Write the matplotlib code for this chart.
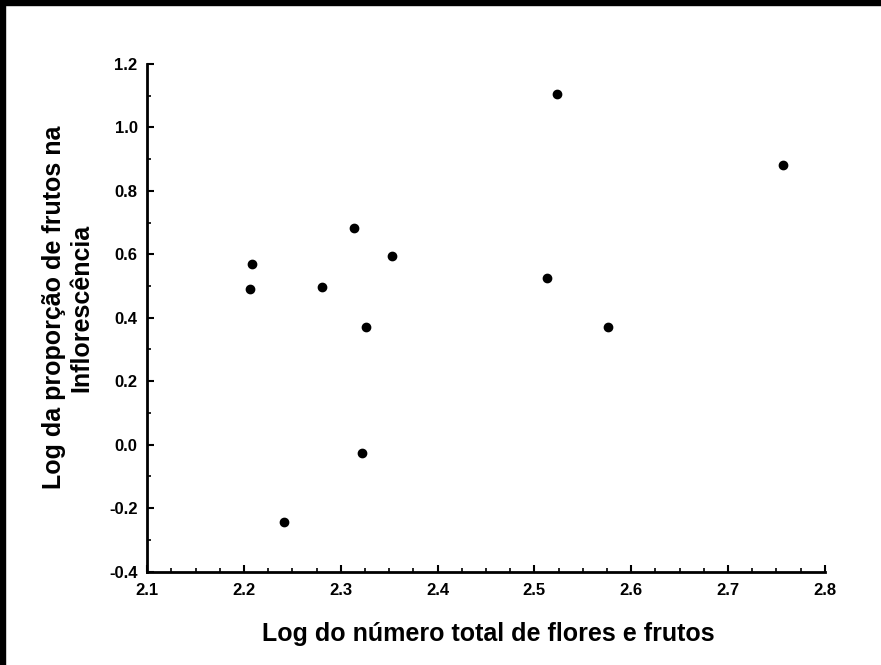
import matplotlib
matplotlib.use("Agg")
import matplotlib.pyplot as plt
from matplotlib.patches import Rectangle
from matplotlib.ticker import MultipleLocator

plt.rcParams['font.family'] = ['Liberation Sans', 'DejaVu Sans']
plt.rcParams['font.weight'] = 'bold'

# log of total flowers + fruits vs log of fruit proportion
log_total = [2.208, 2.206, 2.241, 2.281, 2.314, 2.322, 2.326, 2.353,
             2.513, 2.523, 2.576, 2.757]
log_prop = [0.568, 0.490, -0.245, 0.497, 0.683, -0.026, 0.371, 0.596,
            0.524, 1.106, 0.371, 0.882]

fig = plt.figure(figsize=(8.81, 6.65), dpi=100)
ax = fig.add_axes([0.1672, 0.1406, 0.7689, 0.7632])

ax.scatter(log_total, log_prop, s=36, color='black', zorder=3)

ax.set_xlim(2.1, 2.8)
ax.set_ylim(-0.4, 1.2)
ax.xaxis.set_major_locator(MultipleLocator(0.1))
ax.xaxis.set_minor_locator(MultipleLocator(0.025))
ax.yaxis.set_major_locator(MultipleLocator(0.2))
ax.yaxis.set_minor_locator(MultipleLocator(0.1))
ax.xaxis.set_major_formatter(plt.FuncFormatter(lambda v, p: f"{v:.1f}"))
ax.yaxis.set_major_formatter(plt.FuncFormatter(lambda v, p: f"{v:.1f}".replace("-0.0", "0.0")))

ax.spines['top'].set_visible(False)
ax.spines['right'].set_visible(False)
ax.spines['left'].set_linewidth(2)
ax.spines['bottom'].set_linewidth(2)

ax.tick_params(which='major', direction='in', length=5, width=1.5, labelsize=12)
ax.tick_params(which='minor', direction='in', length=3, width=1.2)
ax.tick_params(axis='x', which='major', pad=8)
ax.tick_params(axis='y', which='major', pad=7)
for lab in ax.get_xticklabels() + ax.get_yticklabels():
    lab.set_fontweight('bold')

ax.set_xlabel("Log do número total de flores e frutos", fontsize=18, fontweight='bold')
ax.xaxis.set_label_coords(0.504, -0.10)
ax.set_ylabel("Log da proporção de frutos na\nInflorescência", fontsize=18,
              fontweight='bold', linespacing=1.15)
ax.yaxis.set_label_coords(-0.08, 0.52)

# black bands on top and left edges
fig.patches.append(Rectangle((0, 1 - 5 / 665), 1, 5 / 665, transform=fig.transFigure,
                             color='black', zorder=10))
fig.patches.append(Rectangle((0, 0), 5 / 881, 1, transform=fig.transFigure,
                             color='black', zorder=10))

fig.savefig("out.png", dpi=100)
